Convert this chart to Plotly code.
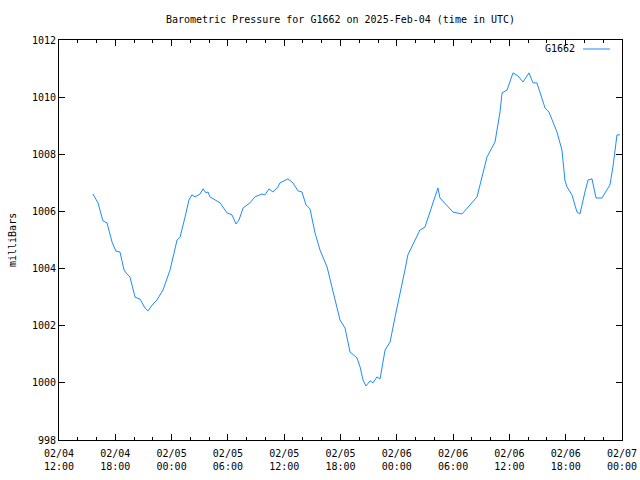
import plotly.graph_objects as go

times = [
    "2025-02-04 15:37", "2025-02-04 16:09", "2025-02-04 16:41", "2025-02-04 17:07", "2025-02-04 17:39",
    "2025-02-04 18:04", "2025-02-04 18:30", "2025-02-04 18:56", "2025-02-04 19:15", "2025-02-04 19:34",
    "2025-02-04 20:06", "2025-02-04 20:38", "2025-02-04 21:10", "2025-02-04 21:29", "2025-02-04 21:55",
    "2025-02-04 22:26", "2025-02-04 23:05", "2025-02-04 23:50", "2025-02-05 00:35", "2025-02-05 00:54",
    "2025-02-05 01:26", "2025-02-05 01:51", "2025-02-05 02:10", "2025-02-05 02:30", "2025-02-05 03:02",
    "2025-02-05 03:21", "2025-02-05 03:40", "2025-02-05 03:53", "2025-02-05 04:05", "2025-02-05 04:25",
    "2025-02-05 05:10", "2025-02-05 05:54", "2025-02-05 06:26", "2025-02-05 06:52", "2025-02-05 07:11",
    "2025-02-05 07:37", "2025-02-05 08:21", "2025-02-05 08:53", "2025-02-05 09:38", "2025-02-05 09:57",
    "2025-02-05 10:23", "2025-02-05 10:48", "2025-02-05 11:20", "2025-02-05 11:33", "2025-02-05 12:24",
    "2025-02-05 12:56", "2025-02-05 13:28", "2025-02-05 13:54", "2025-02-05 14:19", "2025-02-05 14:45",
    "2025-02-05 15:17", "2025-02-05 15:49", "2025-02-05 16:08", "2025-02-05 16:34", "2025-02-05 17:05",
    "2025-02-05 17:38", "2025-02-05 17:57", "2025-02-05 18:29", "2025-02-05 19:01", "2025-02-05 19:46",
    "2025-02-05 20:05", "2025-02-05 20:24", "2025-02-05 20:43", "2025-02-05 21:09", "2025-02-05 21:28",
    "2025-02-05 21:53", "2025-02-05 22:13", "2025-02-05 22:45", "2025-02-05 23:17", "2025-02-05 23:49",
    "2025-02-06 00:20", "2025-02-06 00:52", "2025-02-06 01:11", "2025-02-06 01:37", "2025-02-06 01:56",
    "2025-02-06 02:28", "2025-02-06 03:00", "2025-02-06 03:45", "2025-02-06 04:23", "2025-02-06 04:36",
    "2025-02-06 05:59", "2025-02-06 06:57", "2025-02-06 07:29", "2025-02-06 08:33", "2025-02-06 09:37",
    "2025-02-06 10:28", "2025-02-06 11:00", "2025-02-06 11:13", "2025-02-06 11:45", "2025-02-06 12:23",
    "2025-02-06 12:55", "2025-02-06 13:27", "2025-02-06 14:05", "2025-02-06 14:31", "2025-02-06 14:56",
    "2025-02-06 15:16", "2025-02-06 15:48", "2025-02-06 16:13", "2025-02-06 17:04", "2025-02-06 17:36",
    "2025-02-06 17:55", "2025-02-06 18:08", "2025-02-06 18:40", "2025-02-06 19:12", "2025-02-06 19:31",
    "2025-02-06 20:03", "2025-02-06 20:23", "2025-02-06 20:48", "2025-02-06 21:14", "2025-02-06 21:52",
    "2025-02-06 22:43", "2025-02-06 23:02", "2025-02-06 23:28", "2025-02-06 23:47",
]
pressure = [
    1006.61, 1006.30, 1005.67, 1005.60, 1004.93,
    1004.61, 1004.58, 1003.95, 1003.81, 1003.70,
    1003.00, 1002.93, 1002.62, 1002.52, 1002.72,
    1002.90, 1003.25, 1003.95, 1005.00, 1005.10,
    1005.80, 1006.40, 1006.58, 1006.51, 1006.61,
    1006.79, 1006.65, 1006.68, 1006.51, 1006.44,
    1006.30, 1005.95, 1005.88, 1005.56, 1005.70,
    1006.12, 1006.30, 1006.51, 1006.61, 1006.58,
    1006.79, 1006.68, 1006.86, 1007.00, 1007.14,
    1007.00, 1006.72, 1006.68, 1006.23, 1006.09,
    1005.25, 1004.65, 1004.37, 1004.06, 1003.36,
    1002.66, 1002.20, 1001.92, 1001.08, 1000.87,
    1000.56, 1000.10, 999.89, 1000.07, 1000.00,
    1000.21, 1000.14, 1001.15, 1001.43, 1002.31,
    1003.08, 1003.95, 1004.48, 1004.76, 1005.00,
    1005.35, 1005.45, 1006.23, 1006.82, 1006.47,
    1005.98, 1005.91, 1006.12, 1006.51, 1007.91,
    1008.43, 1009.48, 1010.15, 1010.25, 1010.85,
    1010.74, 1010.53, 1010.85, 1010.50, 1010.50,
    1010.15, 1009.62, 1009.48, 1008.78, 1008.15,
    1007.10, 1006.86, 1006.58, 1005.98, 1005.91,
    1006.68, 1007.10, 1007.14, 1006.47, 1006.47,
    1006.93, 1007.56, 1008.68, 1008.68,
]

x_start = "2025-02-04 12:00"
x_end = "2025-02-07 00:00"
tick_vals = ["2025-02-04 12:00", "2025-02-04 18:00", "2025-02-05 00:00", "2025-02-05 06:00",
             "2025-02-05 12:00", "2025-02-05 18:00", "2025-02-06 00:00", "2025-02-06 06:00",
             "2025-02-06 12:00", "2025-02-06 18:00", "2025-02-07 00:00"]
tick_text = ["02/04<br>12:00", "02/04<br>18:00", "02/05<br>00:00", "02/05<br>06:00",
             "02/05<br>12:00", "02/05<br>18:00", "02/06<br>00:00", "02/06<br>06:00",
             "02/06<br>12:00", "02/06<br>18:00", "02/07<br>00:00"]
y_ticks = [998, 1000, 1002, 1004, 1006, 1008, 1010, 1012]

FONT = "DejaVu Sans Mono"
COLOR = "#1a8cff"

W, H = 640, 480
L, T = 59, 40
PW, PH = 563, 400

fig = go.Figure()
fig.add_trace(go.Scatter(x=times, y=pressure, mode="lines",
                         line=dict(color=COLOR, width=1), name="G1662",
                         showlegend=False))

fig.update_layout(
    width=W, height=H,
    margin=dict(l=L, r=W - L - PW, t=T, b=H - T - PH, autoexpand=False),
    paper_bgcolor="white", plot_bgcolor="white",
    font=dict(family=FONT, size=10, color="black"),
    title=dict(text="Barometric Pressure for G1662 on 2025-Feb-04 (time in UTC)",
               x=340.5 / W, xanchor="center", y=1 - 19 / H, yanchor="middle",
               automargin=False,
               font=dict(family=FONT, size=10, color="black")),
    showlegend=False,
)
fig.update_xaxes(
    range=[x_start, x_end], tickvals=tick_vals, ticktext=tick_text, automargin=False,
    showgrid=False, zeroline=False, showline=True, linecolor="black", linewidth=1,
    mirror="allticks", ticks="inside", ticklen=6, tickcolor="black", tickwidth=1,
    tickfont=dict(family=FONT, size=10), ticklabelstandoff=4,
    minor=dict(dtick=2 * 3600 * 1000, tick0=x_start, ticks="inside", ticklen=3,
               tickcolor="black", showgrid=False),
)
fig.update_yaxes(
    range=[998, 1012], tickvals=y_ticks, automargin=False,
    showgrid=False, zeroline=False, showline=True, linecolor="black", linewidth=1,
    mirror="allticks", ticks="inside", ticklen=6, tickcolor="black", tickwidth=1,
    tickfont=dict(family=FONT, size=10),
)

fig.add_annotation(text="milliBars", xref="paper", yref="paper",
                   x=-47 / PW, y=0.5, xanchor="center", yanchor="middle", textangle=-90,
                   showarrow=False, font=dict(family=FONT, size=10, color="black"))

# legend (gnuplot style: text then sample line)
fig.add_annotation(text="G1662", xref="paper", yref="paper",
                   x=(577 - 59) / PW, y=(440 - 49) / PH, xanchor="right", yanchor="middle",
                   showarrow=False, font=dict(family=FONT, size=10, color="black"))
fig.add_shape(type="line", xref="paper", yref="paper",
              x0=(583 - 59) / PW, x1=(610 - 59) / PW,
              y0=(440 - 49) / PH, y1=(440 - 49) / PH,
              line=dict(color=COLOR, width=1))

fig.write_html("out.html",
               config={"displayModeBar": False, "staticPlot": True},
               post_script="document.body.style.margin='0';document.body.style.overflow='hidden';")
